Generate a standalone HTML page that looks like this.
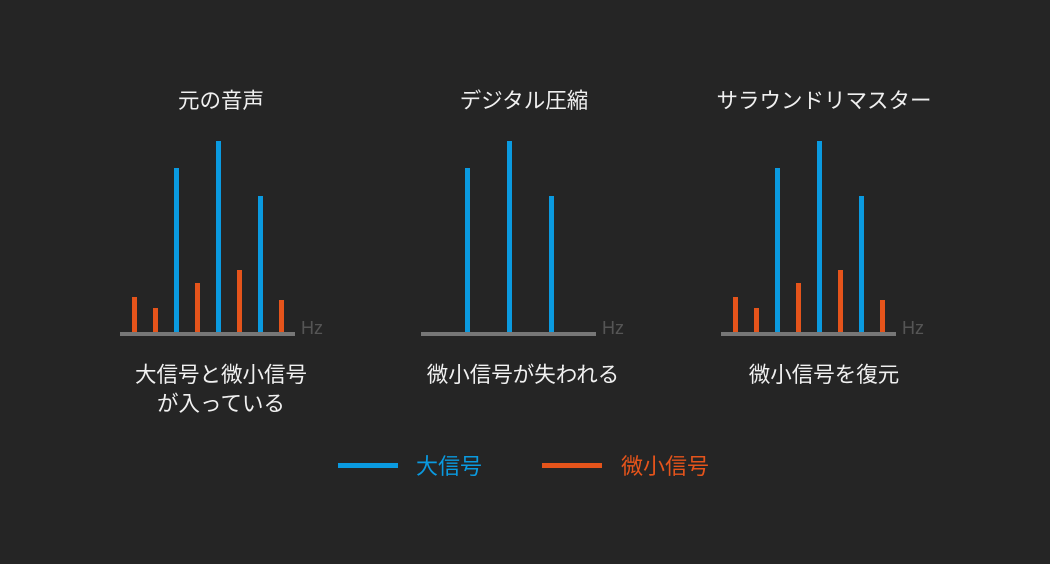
<!DOCTYPE html>
<html><head><meta charset="utf-8"><style>
body{margin:0;background:#252525;}
svg{display:block}
text{font-family:"Liberation Sans","Noto Sans CJK JP",sans-serif;}
</style></head><body>
<svg width="1050" height="564" xmlns="http://www.w3.org/2000/svg">
<rect width="1050" height="564" fill="#252525"/>
<g id="c1">
<text x="221" y="108" fill="#f0f0f0" font-size="21.5" text-anchor="middle">元の音声</text>
<rect x="132" y="297" width="5" height="37" fill="#e5541b"/>
<rect x="153" y="308" width="5" height="26" fill="#e5541b"/>
<rect x="174" y="168" width="5" height="166" fill="#0a9ae0"/>
<rect x="195" y="283" width="5" height="51" fill="#e5541b"/>
<rect x="216" y="141" width="5" height="193" fill="#0a9ae0"/>
<rect x="237" y="270" width="5" height="64" fill="#e5541b"/>
<rect x="258" y="196" width="5" height="138" fill="#0a9ae0"/>
<rect x="279" y="300" width="5" height="34" fill="#e5541b"/>
<rect x="120" y="332" width="175" height="4" fill="#777"/>
<text x="301" y="334" fill="#555" font-size="18">Hz</text>
<text x="221" y="382" fill="#f0f0f0" font-size="21.5" text-anchor="middle">大信号と微小信号</text>
<text x="221" y="411" fill="#f0f0f0" font-size="21.5" text-anchor="middle">が入っている</text>
</g>
<g transform="translate(291,0)">
<text x="233" y="108" fill="#f0f0f0" font-size="21.5" text-anchor="middle">デジタル圧縮</text>
<rect x="174" y="168" width="5" height="166" fill="#0a9ae0"/>
<rect x="216" y="141" width="5" height="193" fill="#0a9ae0"/>
<rect x="258" y="196" width="5" height="138" fill="#0a9ae0"/>
<rect x="130" y="332" width="175" height="4" fill="#777"/>
<text x="311" y="334" fill="#555" font-size="18">Hz</text>
<text x="232" y="382" fill="#f0f0f0" font-size="21.5" text-anchor="middle">微小信号が失われる</text>
</g>
<g transform="translate(601,0)">
<text x="223" y="108" fill="#f0f0f0" font-size="21.5" text-anchor="middle">サラウンドリマスター</text>
<rect x="132" y="297" width="5" height="37" fill="#e5541b"/>
<rect x="153" y="308" width="5" height="26" fill="#e5541b"/>
<rect x="174" y="168" width="5" height="166" fill="#0a9ae0"/>
<rect x="195" y="283" width="5" height="51" fill="#e5541b"/>
<rect x="216" y="141" width="5" height="193" fill="#0a9ae0"/>
<rect x="237" y="270" width="5" height="64" fill="#e5541b"/>
<rect x="258" y="196" width="5" height="138" fill="#0a9ae0"/>
<rect x="279" y="300" width="5" height="34" fill="#e5541b"/>
<rect x="120" y="332" width="175" height="4" fill="#777"/>
<text x="301" y="334" fill="#555" font-size="18">Hz</text>
<text x="223" y="382" fill="#f0f0f0" font-size="21.5" text-anchor="middle">微小信号を復元</text>
</g>
<rect x="338" y="463" width="60" height="5" fill="#0a9ae0"/>
<text x="416" y="474" fill="#0a9ae0" font-size="22">大信号</text>
<rect x="542" y="463" width="60" height="5" fill="#e5541b"/>
<text x="621" y="474" fill="#e5541b" font-size="22">微小信号</text>
</svg>
</body></html>
